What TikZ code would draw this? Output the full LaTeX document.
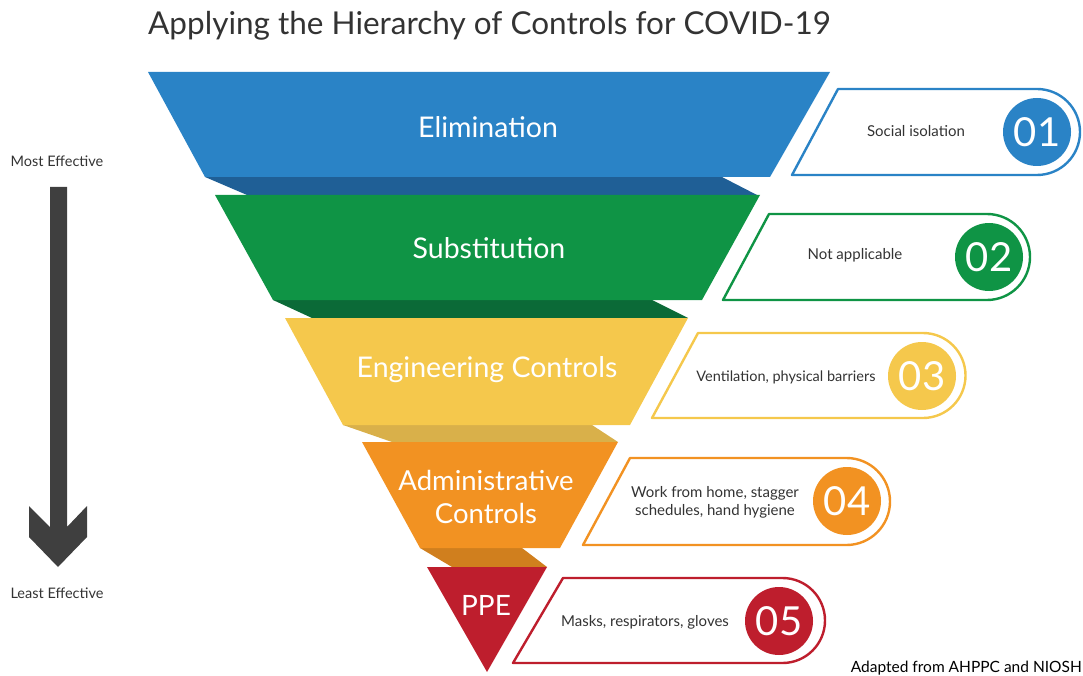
\documentclass[tikz,border=0pt]{standalone}
\usepackage{fontspec}
\setmainfont{Lato}
\definecolor{cblue}{HTML}{2A83C6}
\definecolor{cblued}{HTML}{1F5F96}
\definecolor{cgreen}{HTML}{0F9445}
\definecolor{cgreend}{HTML}{0B6A37}
\definecolor{cyellow}{HTML}{F5C84C}
\definecolor{cyellowd}{HTML}{D9B04A}
\definecolor{corange}{HTML}{F29222}
\definecolor{coranged}{HTML}{D07F1E}
\definecolor{cred}{HTML}{BE1E2D}
\definecolor{textgray}{HTML}{333333}
\definecolor{arrowgray}{HTML}{3F3F3F}
\tikzset{
  bandtext/.style={text=white, font=\fontsize{28.5}{33}\selectfont, align=center, inner sep=0pt},
  boxtext/.style={text=textgray, font=\fontsize{15}{18}\selectfont, align=center, inner sep=0pt},
  numcirc/.style={circle, minimum size=68pt, inner sep=0pt, text=white, font=\fontsize{40}{40}\selectfont},
  boxline/.style={line width=2.4pt, fill=white, line join=round},
  sidetext/.style={text=textgray, font=\fontsize{14.5}{17}\selectfont, inner sep=0pt}
}
\begin{document}
\begin{tikzpicture}[x=1pt,y=-1pt]
\useasboundingbox (0,0) rectangle (1083,676);
% title
\node[anchor=west, text=textgray, font=\fontsize{31.5}{36}\selectfont, inner sep=0pt] (title) at (148,26) {Applying the Hierarchy of Controls for COVID-19};
% funnel strips (shadows)
\fill[cblued] (205,177) -- (722,177) -- (757,195) -- (247,195) -- cycle;
\fill[cgreend] (273,300) -- (652,300) -- (688,318) -- (312,318) -- cycle;
\fill[cyellowd] (343,425) -- (592,425) -- (618,442) -- (392,442) -- cycle;
\fill[coranged] (420,548) -- (522,548) -- (547,567) -- (452,567) -- cycle;
% funnel bands
\fill[cblue] (148,72) -- (830,72) -- (770,177) -- (205,177) -- cycle;
\fill[cgreen] (215,195) -- (760,195) -- (702,300) -- (273,300) -- cycle;
\fill[cyellow] (285,318) -- (688,318) -- (630,425) -- (343,425) -- cycle;
\fill[corange] (362,442) -- (618,442) -- (560,548) -- (420,548) -- cycle;
\fill[cred] (427,567) -- (547,567) -- (487,672) -- cycle;
% band labels
\node[bandtext] (elim) at (488,127) {Elimination};
\node[bandtext] (subst) at (489,248) {Substitution};
\node[bandtext] (eng) at (487,370) {Engineering Controls};
\node[bandtext, font=\fontsize{27.5}{33}\selectfont] (admin) at (486,497) {Administrative\\Controls};
\node[bandtext, font=\fontsize{28}{33}\selectfont] (ppe) at (486,605) {PPE};
% boxes
\draw[boxline, draw=cblue] (792,175) -- (838,89) -- (1037,89) arc[start angle=-90, end angle=90, radius=43] -- cycle;
\draw[boxline, draw=cgreen] (723,300) -- (769,214) -- (987,214) arc[start angle=-90, end angle=90, radius=43] -- cycle;
\draw[boxline, draw=cyellow] (652,418) -- (698,333) -- (923,333) arc[start angle=-90, end angle=90, radius=42.5] -- cycle;
\draw[boxline, draw=corange] (583,545) -- (630,458) -- (846.5,458) arc[start angle=-90, end angle=90, radius=43.5] -- cycle;
\draw[boxline, draw=cred] (513,663) -- (563,578) -- (782.5,578) arc[start angle=-90, end angle=90, radius=42.5] -- cycle;
% number circles
\node[numcirc, fill=cblue] (n1) at (1037,132) {01};
\node[numcirc, fill=cgreen] (n2) at (989,257) {02};
\node[numcirc, fill=cyellow] (n3) at (922,376) {03};
\node[numcirc, fill=corange] (n4) at (847,501) {04};
\node[numcirc, fill=cred] (n5) at (779,621) {05};
% box texts
\node[boxtext] (t1) at (916,131) {Social isolation};
\node[boxtext] (t2) at (855,255) {Not applicable};
\node[boxtext, font=\fontsize{14.5}{17}\selectfont] (t3) at (786,377) {Ventilation, physical barriers};
\node[boxtext] (t4) at (715,502) {Work from home, stagger\\schedules, hand hygiene};
\node[boxtext] (t5) at (645,622) {Masks, respirators, gloves};
% effectiveness arrow
\node[sidetext] (most) at (57,161) {Most Effective};
\node[sidetext] (least) at (57,593) {Least Effective};
\fill[arrowgray] (50,187) -- (67,187) -- (67,527) -- (87,506) -- (87,537) -- (58,567) -- (29,537) -- (29,506) -- (50,527) -- cycle;
% source
\node[anchor=east, text=black, font=\fontsize{15.5}{18}\selectfont, inner sep=0pt] (src) at (1082,668) {Adapted from AHPPC and NIOSH};
\end{tikzpicture}
\end{document}
